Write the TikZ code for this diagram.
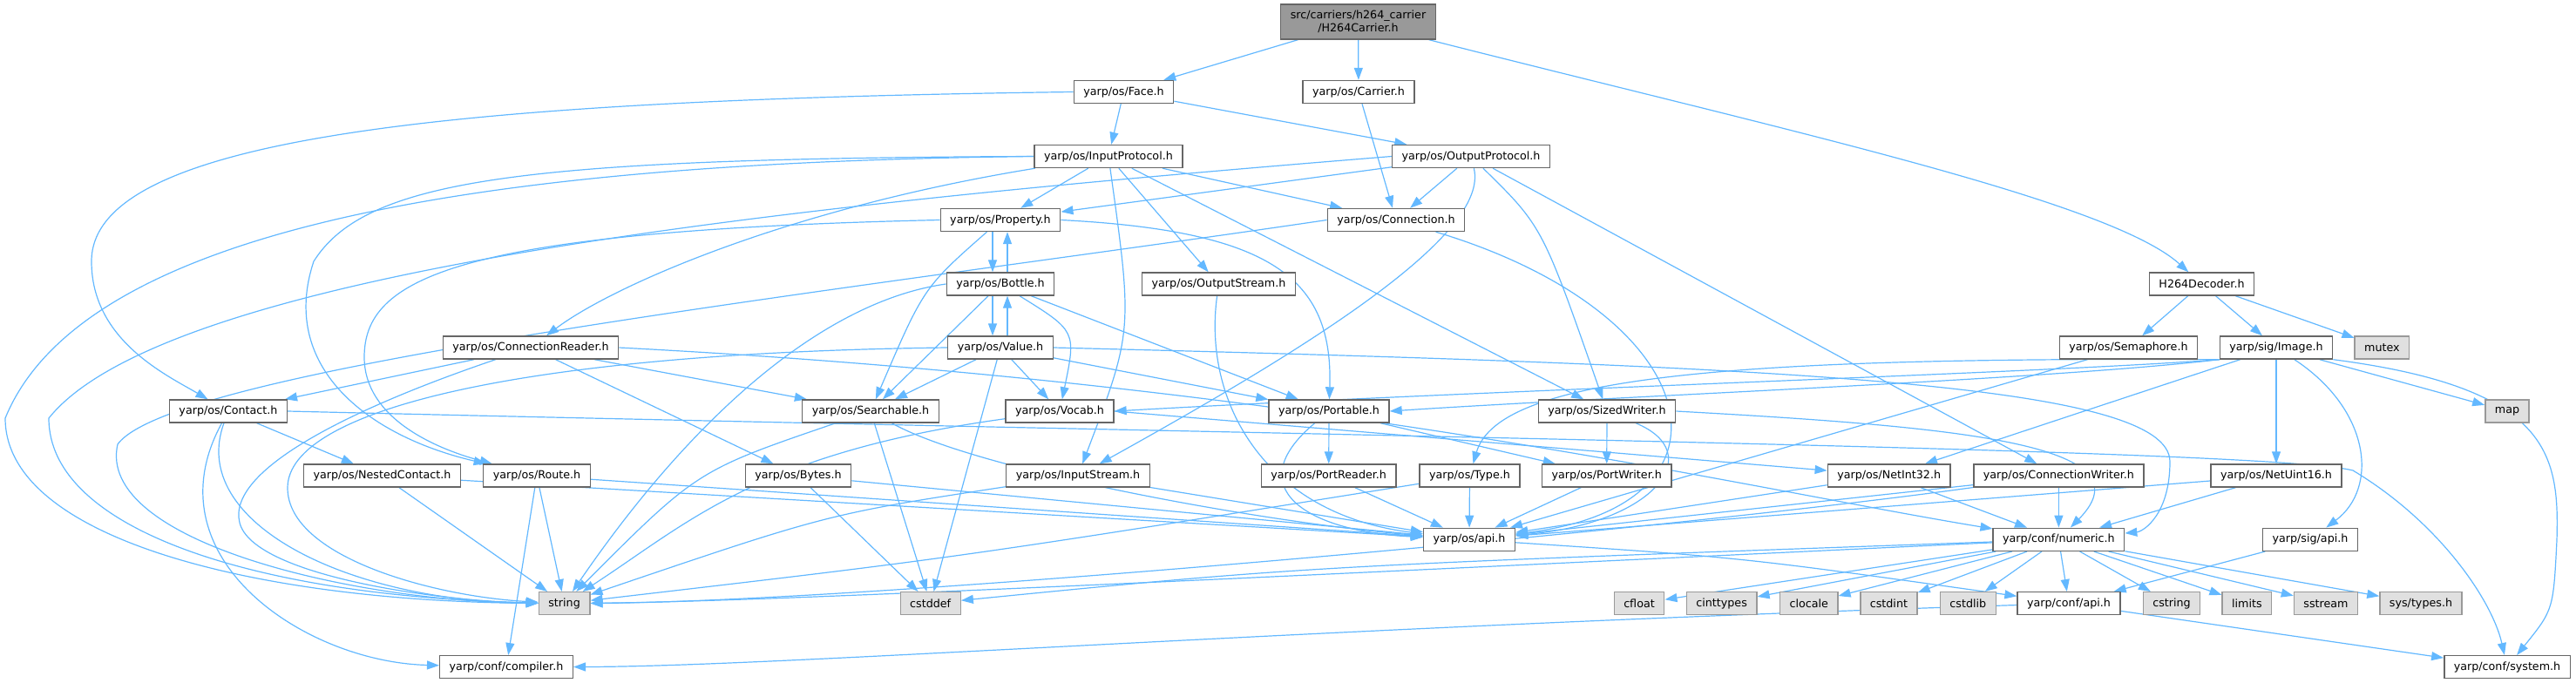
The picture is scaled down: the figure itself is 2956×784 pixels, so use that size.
\documentclass[tikz,border=0pt]{standalone}
\usepackage{fontspec}
\setmainfont{DejaVu Sans}
\usetikzlibrary{arrows.meta}
\definecolor{eb}{HTML}{63B8FF}
\definecolor{nb}{HTML}{666666}
\definecolor{sb}{HTML}{999999}
\definecolor{sf}{HTML}{E0E0E0}
\pgfdeclarelayer{edges}
\pgfsetlayers{edges,main}
\tikzset{
  hb/.style={draw=nb, fill=white, line width=1.4pt, inner xsep=11pt, inner ysep=0pt, minimum height=26pt, font=\fontsize{12.7pt}{15pt}\selectfont},
  sysb/.style={hb, draw=sb, fill=sf},
  rootb/.style={hb, fill=sb, minimum height=40pt, align=center},
  e/.style={draw=eb, line width=1.2pt, -{Triangle[length=14pt,width=10pt]}}
}
\begin{document}
\begin{tikzpicture}[x=1pt,y=-1pt]
\useasboundingbox (0,0) rectangle (2956,784);
% nodes
\node[rootb] (root) at (1558.5,25) {src/carriers/h264\_carrier\\/H264Carrier.h};
\node[hb] (face) at (1289.5,105.5) {yarp/os/Face.h};
\node[hb] (carrier) at (1559,105.5) {yarp/os/Carrier.h};
\node[hb] (inproto) at (1272,179.5) {yarp/os/InputProtocol.h};
\node[hb] (outproto) at (1688,179.5) {yarp/os/OutputProtocol.h};
\node[hb] (property) at (1148,252.5) {yarp/os/Property.h};
\node[hb] (conn) at (1602,252.5) {yarp/os/Connection.h};
\node[hb] (bottle) at (1148,326) {yarp/os/Bottle.h};
\node[hb] (outstream) at (1398.5,326) {yarp/os/OutputStream.h};
\node[hb] (dec) at (2526.5,326) {H264Decoder.h};
\node[hb] (creader) at (609,399) {yarp/os/ConnectionReader.h};
\node[hb] (value) at (1148,399) {yarp/os/Value.h};
\node[hb] (sem) at (2442.4,399) {yarp/os/Semaphore.h};
\node[hb] (image) at (2612,399) {yarp/sig/Image.h};
\node[sysb] (mutex) at (2733.4,399) {mutex};
\node[hb] (contact) at (262,472) {yarp/os/Contact.h};
\node[hb] (search) at (999,472) {yarp/os/Searchable.h};
\node[hb] (vocab) at (1216,472) {yarp/os/Vocab.h};
\node[hb] (portable) at (1525,472) {yarp/os/Portable.h};
\node[hb] (sized) at (1844,472) {yarp/os/SizedWriter.h};
\node[sysb] (map) at (2877,472) {map};
\node[hb] (nested) at (438.5,546) {yarp/os/NestedContact.h};
\node[hb] (route) at (616,546) {yarp/os/Route.h};
\node[hb] (bytes) at (916,546) {yarp/os/Bytes.h};
\node[hb] (instream) at (1237,546) {yarp/os/InputStream.h};
\node[hb] (portreader) at (1524.7,546) {yarp/os/PortReader.h};
\node[hb] (type) at (1686.5,546) {yarp/os/Type.h};
\node[hb] (portwriter) at (1843.7,546) {yarp/os/PortWriter.h};
\node[hb] (netint32) at (2167.7,546) {yarp/os/NetInt32.h};
\node[hb] (cwriter) at (2362.4,546) {yarp/os/ConnectionWriter.h};
\node[hb] (netuint16) at (2612,546) {yarp/os/NetUint16.h};
\node[hb] (osapi) at (1686,619.3) {yarp/os/api.h};
\node[hb] (numeric) at (2362.4,619.3) {yarp/conf/numeric.h};
\node[hb] (sigapi) at (2651,619.3) {yarp/sig/api.h};
\node[sysb] (str) at (647.6,692.7) {string};
\node[sysb] (cstddef) at (1067.7,692.7) {cstddef};
\node[sysb] (cfloat) at (1881,692.7) {cfloat};
\node[sysb] (cinttypes) at (1975.6,692.7) {cinttypes};
\node[sysb] (clocale) at (2075.7,692.7) {clocale};
\node[sysb] (cstdint) at (2167.4,692.7) {cstdint};
\node[sysb] (cstdlib) at (2258.3,692.7) {cstdlib};
\node[hb] (confapi) at (2374,692.7) {yarp/conf/api.h};
\node[sysb] (cstring) at (2492,692.7) {cstring};
\node[sysb] (limits) at (2578.4,692.7) {limits};
\node[sysb] (sstream) at (2669,692.7) {sstream};
\node[sysb] (systypes) at (2778,692.7) {sys/types.h};
\node[hb] (compiler) at (581,765.7) {yarp/conf/compiler.h};
\node[hb] (system) at (2877,765.7) {yarp/conf/system.h};
% edges
\begin{pgfonlayer}{edges}
\draw[e] (root) -- (face);
\draw[e] (root) -- (carrier);
\draw[e] (root) .. controls (2050,150) and (2420,230) .. (dec);
\draw[e] (face.west) .. controls (500,115) and (105,160) .. (105,300) .. controls (105,390) and (190,430) .. (contact);
\draw[e] (face) -- (inproto);
\draw[e] (face) -- (outproto);
\draw[e] (carrier) -- (conn);
% InputProtocol
\draw[e] (inproto) .. controls (900,240) and (700,330) .. (creader);
\draw[e] (inproto.west) .. controls (600,182) and (420,205) .. (360,300) .. controls (320,420) and (420,500) .. (route);
\draw[e] (inproto.west) .. controls (600,186) and (100,250) .. (6,480) .. controls (6,620) and (300,690) .. (str);
\draw[e] (inproto) -- (property);
\draw[e] (inproto) .. controls (1300,380) .. (instream);
\draw[e] (inproto) -- (outstream);
\draw[e] (inproto) -- (sized);
\draw[e] (inproto) -- (conn);
% OutputProtocol
\draw[e] (outproto.west) .. controls (1000,228) and (200,300) .. (56,480) .. controls (56,610) and (300,685) .. (str);
\draw[e] (outproto) -- (property);
\draw[e] (outproto) -- (conn);
\draw[e] (outproto) .. controls (1710,270) and (1500,400) .. (instream);
\draw[e] (outproto) .. controls (1770,260) .. (sized);
\draw[e] (outproto) -- (cwriter);
% Property
\draw[e] ([xshift=-9pt]property.south) -- ([xshift=-9pt]bottle.north);
\draw[e] (property) .. controls (1060,330) .. (search);
\draw[e] (property.east) .. controls (1460,265) and (1530,320) .. (portable);
\draw[e] (property.west) .. controls (520,265) and (418,320) .. (418,410) .. controls (418,480) and (500,515) .. (route);
% Connection
\draw[e] (conn.west) .. controls (1000,330) and (200,420) .. (135,510) .. controls (110,620) and (400,690) .. (str);
\draw[e] (conn) .. controls (1960,360) and (2010,580) .. (osapi);
% Bottle
\draw[e] ([xshift=8pt]bottle.north) -- ([xshift=8pt]property.south);
\draw[e] ([xshift=-9pt]bottle.south) -- ([xshift=-9pt]value.north);
\draw[e] (bottle) -- (search);
\draw[e] (bottle) .. controls (1235,380) .. (vocab);
\draw[e] (bottle) -- (portable);
\draw[e] (bottle.west) .. controls (950,345) and (800,470) .. (str);
% Value
\draw[e] ([xshift=8pt]value.north) -- ([xshift=8pt]bottle.south);
\draw[e] (value) -- (search);
\draw[e] (value) -- (vocab);
\draw[e] (value) -- (portable);
\draw[e] (value) -- (cstddef);
\draw[e] (value.west) .. controls (600,405) and (330,470) .. (330,560) .. controls (330,640) and (500,685) .. (str);
\draw[e] (value.east) .. controls (2050,420) and (2490,440) .. (2490,530) .. controls (2490,590) and (2460,610) .. (numeric);
% ConnectionReader
\draw[e] (creader) -- (contact);
\draw[e] (creader) -- (search);
\draw[e] (creader) -- (bytes);
\draw[e] (creader) .. controls (400,470) and (260,540) .. (275,600) .. controls (290,660) and (500,690) .. (str);
\draw[e] (creader.east) .. controls (1500,440) and (2000,560) .. (numeric);
% Contact
\draw[e] (contact) -- (nested);
\draw[e] (contact) .. controls (215,600) and (400,690) .. (str);
\draw[e] (contact) .. controls (170,640) and (350,760) .. (compiler);
\draw[e] (contact.east) .. controls (1500,500) and (2600,515) .. (2700,540) .. controls (2800,600) and (2860,690) .. (system);
% Searchable
\draw[e] (search) .. controls (800,540) .. (str);
\draw[e] (search) -- (cstddef);
\draw[e] (search) .. controls (1120,540) and (1450,600) .. (osapi);
% Vocab
\draw[e] (vocab) .. controls (870,520) and (790,600) .. (str);
\draw[e] (vocab.east) -- (netint32);
% Portable
\draw[e] (portable) -- (portreader);
\draw[e] (portable) -- (portwriter);
\draw[e] (portable) .. controls (1420,560) and (1500,610) .. (osapi);
% SizedWriter
\draw[e] (sized) -- (portwriter);
\draw[e] (sized) .. controls (1960,520) and (1900,600) .. (osapi);
\draw[e] (sized.east) .. controls (2250,490) and (2470,510) .. (numeric);
% Nested, Route, Bytes
\draw[e] (nested) -- (str);
\draw[e] (nested) -- (osapi);
\draw[e] (route) -- (str);
\draw[e] (route) -- (compiler);
\draw[e] (route) -- (osapi);
\draw[e] (bytes) -- (cstddef);
\draw[e] (bytes) -- (osapi);
% streams
\draw[e] (outstream) .. controls (1380,460) and (1450,590) .. (osapi);
\draw[e] (instream) -- (osapi);
\draw[e] (instream) .. controls (950,590) .. (str);
% port reader / type / writer
\draw[e] (portreader) -- (osapi);
\draw[e] (type) -- (osapi);
\draw[e] (portwriter) -- (osapi);
\draw[e] (type) .. controls (1100,640) .. (str);
% decoder
\draw[e] (dec) -- (sem);
\draw[e] (dec) -- (image);
\draw[e] (dec) -- (mutex);
\draw[e] (sem) -- (osapi);
% image
\draw[e] (image.south west) .. controls (2350,428) and (1700,448) .. (vocab.east);
\draw[e] (image.south west) .. controls (2350,436) and (1850,455) .. (portable.east);
\draw[e] (image.south west) .. controls (2000,410) and (1720,430) .. (type);
\draw[e] (image) -- (netint32);
\draw[e] (image) -- (netuint16);
\draw[e] (image) .. controls (2720,470) and (2730,560) .. (sigapi);
\draw[e] (image) -- (map);
\draw[e] (image.south east) .. controls (2925,445) and (2937,520) .. (2934,620) .. controls (2930,700) .. (system);
% net, writer
\draw[e] (netint32) -- (osapi);
\draw[e] (netint32) -- (numeric);
\draw[e] (cwriter) -- (osapi);
\draw[e] (cwriter) -- (numeric);
\draw[e] (cwriter) .. controls (1900,610) and (1000,690) .. (str);
\draw[e] (netuint16) -- (osapi);
\draw[e] (netuint16) -- (numeric);
% numeric
\draw[e] (numeric) .. controls (1500,660) and (900,690) .. (str);
\draw[e] (numeric) .. controls (1500,650) .. (cstddef);
\draw[e] (numeric) -- (cfloat);
\draw[e] (numeric) -- (cinttypes);
\draw[e] (numeric) -- (clocale);
\draw[e] (numeric) -- (cstdint);
\draw[e] (numeric) -- (cstdlib);
\draw[e] (numeric) -- (confapi);
\draw[e] (numeric) -- (cstring);
\draw[e] (numeric) -- (limits);
\draw[e] (numeric) -- (sstream);
\draw[e] (numeric) -- (systypes);
% api
\draw[e] (osapi) .. controls (2000,640) .. (confapi);
\draw[e] (sigapi) -- (confapi);
\draw[e] (confapi) -- (system);
\draw[e] (confapi) .. controls (1500,720) and (900,765) .. (compiler);
\end{pgfonlayer}
\end{tikzpicture}
\end{document}
